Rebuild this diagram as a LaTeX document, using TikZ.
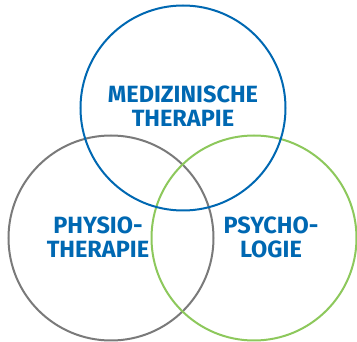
\documentclass[tikz,border=0pt]{standalone}
\usepackage{fontspec}
\setmainfont{Fira Sans}
\usepackage{tikz}

\definecolor{medblue}{RGB}{0,104,178}
\definecolor{physgray}{RGB}{122,122,122}
\definecolor{psygreen}{RGB}{141,200,92}

\begin{document}
\begin{tikzpicture}[x=1pt, y=-1pt,
    ring/.style={draw, circle, line width=2pt, minimum size=205pt, inner sep=0pt},
    label/.style={text=medblue, font=\bfseries\fontsize{23.5}{24}\selectfont, align=center, inner sep=0pt}]

    \useasboundingbox (0, 0) rectangle (357, 342);

    \node [ring, color=physgray] (physio) at (111, 238) {};
    \node [ring, color=psygreen] (psycho) at (254, 238) {};
    \node [ring, color=medblue] (medizin) at (183, 108) {};

    \node [label] (tmed) at (183, 106) {MEDIZINISCHE\\THERAPIE};
    \node [label] (tphys) at (98, 237) {PHYSIO-\\THERAPIE};
    \node [label] (tpsy) at (271, 237) {PSYCHO-\\LOGIE};

  \end{tikzpicture}
\end{document}
